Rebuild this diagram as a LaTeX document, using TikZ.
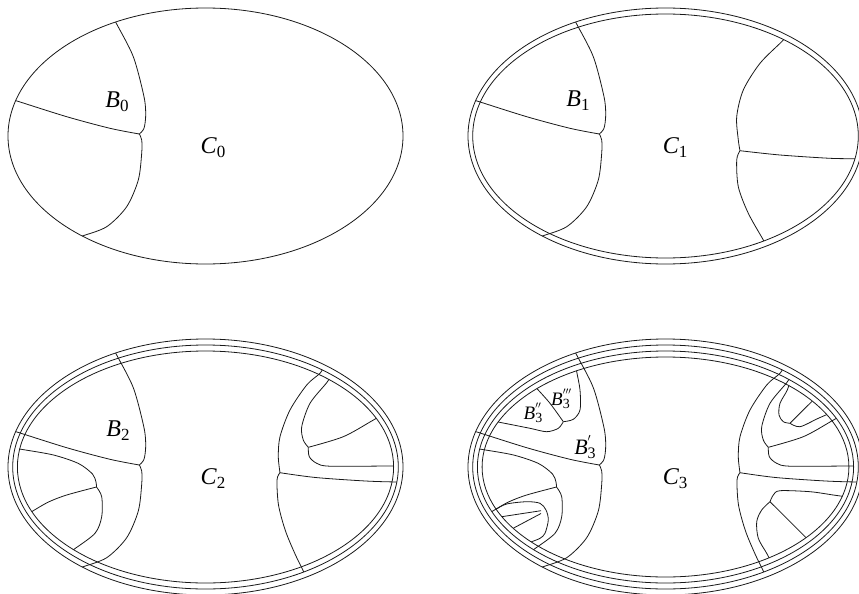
\documentclass[tikz,border=0pt]{standalone}
\usepackage{fontspec}
\newfontfamily\tms{Liberation Serif}
\begin{document}
\tikzset{
  ln/.style={line width=0.8pt, black!90},
  lbl/.style={inner sep=0pt}
}
% italic letter with optional primes and a subscript, Times-like
% #1 letter, #2 primes (math), #3 subscript, #4 letter size, #5 index size
\newcommand\lab[5]{%
  {\fontsize{#4}{#4}\selectfont\tms\itshape #1}%
  \makebox[0pt][l]{\raisebox{0.32\dimexpr#4pt\relax}{\fontsize{#5}{#5}\selectfont$#2$}}%
  \raisebox{-0.17\dimexpr#4pt\relax}{\fontsize{#5}{#5}\selectfont\tms #3}}
\newcommand\ringdraw[2]{\draw[ln] (0,0) ellipse [x radius=#1pt, y radius=#2pt];}
\newcommand\ringclip[2]{\clip (0,0) ellipse [x radius=#1pt, y radius=#2pt];}
% first-level partition (left side)
\newcommand\partA{%
  \draw[ln] plot[smooth] coordinates {(-92,-119) (-89.5,-113.3) (-72.2,-79.3) (-61.5,-39.3) (-59.8,-21) (-61.5,-7.7) (-66.2,-2)};
  \draw[ln] plot[smooth] coordinates {(-196,-37) (-189.5,-35.3) (-138.8,-19.3) (-95.5,-7.7) (-66.2,-2)};
  \draw[ln] plot[smooth] coordinates {(-66.2,-2) (-63.8,4) (-63.8,17.3) (-67.2,44) (-78.8,70.7) (-98.8,90.7) (-123.2,100) (-129,102)};
}
% second-level partition (right side), lower variant
\newcommand\partBlow{%
  \draw[ln] plot[smooth] coordinates {(120,-99) (116.2,-94.3) (94.5,-72.7) (77.8,-46) (71.2,-19.3) (72.8,4) (74.5,14.7)};
  \draw[ln] plot[smooth] coordinates {(74.5,14.7) (114.5,19) (164.5,22.3) (191.2,22.7) (205,22.8)};
  \draw[ln] plot[smooth] coordinates {(74.5,14.7) (71.2,24) (72.8,50.7) (82.8,77.3) (97.8,104) (101,111)};
}
% second-level partition (right side)
\newcommand\partB{%
  \draw[ln] plot[smooth] coordinates {(118,-100) (114.5,-93.7) (101.2,-82) (84.5,-57) (74.5,-30.3) (72.8,-10.3) (74.5,5.7)};
  \draw[ln] plot[smooth] coordinates {(74.5,5.7) (110,10.5) (160,14) (191.2,15) (205,15)};
  \draw[ln] plot[smooth] coordinates {(74.5,5.7) (71.5,13) (73,38) (80,64) (90,88) (97.8,104) (100,110)};
}
% third-level partition
\newcommand\partC{%
  \draw[ln] plot[smooth] coordinates {(-192,-19) (-183,-17.5) (-152,-12) (-127,-3.5) (-113,7) (-109.5,15) (-109,20)};
  \draw[ln] plot[smooth] coordinates {(-109,20) (-138.8,28) (-157,35) (-172.2,43.7) (-182,50)};
  \draw[ln] plot[smooth] coordinates {(-109,20) (-103.8,29.7) (-103.8,49.7) (-110.5,66.3) (-131.5,82.3) (-142,90)};
  \draw[ln] plot[smooth] coordinates {(126,-92) (121.2,-84.3) (104.5,-63.7) (96.2,-40.3) (97.8,-27) (102.8,-19.7)};
  \draw[ln] plot[smooth] coordinates {(102.8,-19.7) (137.8,-30.3) (166.2,-46) (178,-53)};
  \draw[ln] plot[smooth] coordinates {(102.8,-19.7) (103.8,-10.3) (111.2,-3.7) (124.5,-0.8) (182.8,-1) (195,-1)};
}
% fourth-level partition
\newcommand\partD{%
  % upper left
  \draw[ln] plot[smooth] coordinates {(-172,-46) (-163.8,-44.3) (-135.5,-38.7) (-118.8,-35.3) (-107.2,-38.7) (-102.2,-45.3)};
  \draw[ln] plot[smooth] coordinates {(-102.2,-45.3) (-115.5,-63.7) (-128.8,-78.7) (-135,-86)};
  \draw[ln] plot[smooth] coordinates {(-102.2,-45.3) (-92.2,-47.7) (-85.5,-57) (-85.5,-77) (-88.8,-95.3) (-90,-104)};
  % upper right
  \draw[ln] plot[smooth] coordinates {(125,-88) (121.8,-77) (114.5,-63.7) (113.5,-52) (117.8,-45.3) (124.5,-43.7)};
  \draw[ln] plot[smooth] coordinates {(124.5,-43.7) (142.8,-62) (152,-71)};
  \draw[ln] plot[smooth] coordinates {(124.5,-43.7) (134.5,-40.3) (152.8,-48.7) (172,-57)};
  % lower right
  \draw[ln] plot[smooth] coordinates {(182,30) (167.8,28) (144.5,24.7) (114.5,23.7) (107.8,28) (104.5,34.7)};
  \draw[ln] plot[smooth] coordinates {(104.5,34.7) (136.2,66.3) (148,78)};
  \draw[ln] plot[smooth] coordinates {(104.5,34.7) (96.2,43) (91.2,54.7) (92.8,71.3) (101.2,86.3) (106,96)};
  % lower left
  \draw[ln] plot[smooth] coordinates {(-178,47) (-170,42.5) (-158.8,37) (-138.8,34.7) (-125.5,36.3) (-119.5,43) (-117.2,53) (-120.5,66.3) (-125.5,71.3) (-133.8,74.7) (-142,78)};
  \draw[ln] plot[smooth] coordinates {(-124.5,43.7) (-163.8,49.7) (-176,51.5)};
  \draw[ln] plot[smooth] coordinates {(-124.5,46.5) (-150.5,60.3) (-163,67)};
}
\begin{tikzpicture}[x=1pt,y=-1pt]
\useasboundingbox (0,0) rectangle (859,594);

% stage 0
\begin{scope}[shift={(205.5,136)}]
  \ringdraw{197.5}{128}
  \begin{scope}\ringclip{197.5}{128}\partA\end{scope}
  \node[lbl] (b0) at (-88.5,-34) {\lab{B}{}{0}{24}{17}};
  \node[lbl] (c0) at (7.5,12) {\lab{C}{}{0}{24}{17}};
\end{scope}

% stage 1
\begin{scope}[shift={(665.5,136)}]
  \ringdraw{197.5}{128}
  \ringdraw{192.8}{122}
  \begin{scope}\ringclip{197.5}{128}\partA\end{scope}
  \begin{scope}\ringclip{192.8}{122}\partBlow\end{scope}
  \node[lbl] (b1) at (-87.5,-35) {\lab{B}{}{1}{24}{17}};
  \node[lbl] (c1) at (9.5,12) {\lab{C}{}{1}{24}{17}};
\end{scope}

% stage 2
\begin{scope}[shift={(205.5,467)}]
  \ringdraw{197.5}{128}
  \ringdraw{192.8}{122}
  \ringdraw{188.1}{116}
  \begin{scope}\ringclip{197.5}{128}\partA\end{scope}
  \begin{scope}\ringclip{192.8}{122}\partB\end{scope}
  \begin{scope}\ringclip{188.1}{116}\partC\end{scope}
  \node[lbl] (b2) at (-87.5,-36) {\lab{B}{}{2}{24}{17}};
  \node[lbl] (c2) at (7.5,12) {\lab{C}{}{2}{24}{17}};
\end{scope}

% stage 3
\begin{scope}[shift={(665.5,467)}]
  \ringdraw{197.5}{128}
  \ringdraw{192.8}{122}
  \ringdraw{188.1}{116}
  \ringdraw{183.4}{110}
  \begin{scope}\ringclip{197.5}{128}\partA\end{scope}
  \begin{scope}\ringclip{192.8}{122}\partB\end{scope}
  \begin{scope}\ringclip{188.1}{116}\partC\end{scope}
  \begin{scope}\ringclip{183.4}{110}\partD\end{scope}
  \node[lbl] (b3b) at (-132.5,-54) {\lab{B}{''}{3}{19}{14}};
  \node[lbl] (b3c) at (-105,-68) {\lab{B}{'''}{3}{19}{14}};
  \node[lbl] (b3a) at (-80.5,-20) {\lab{B}{'}{3}{22}{16}};
  \node[lbl] (c3) at (9.5,12) {\lab{C}{}{3}{24}{17}};
\end{scope}
\end{tikzpicture}
\end{document}
